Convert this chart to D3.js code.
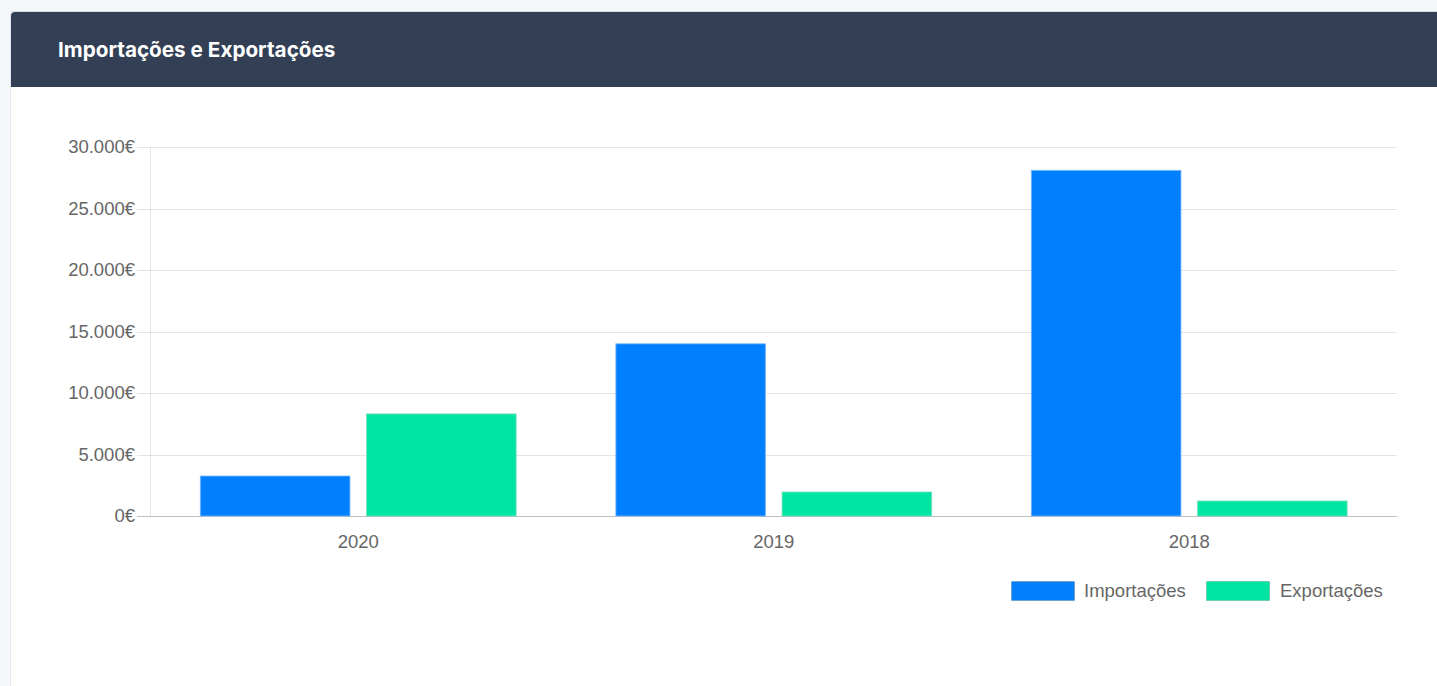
<!DOCTYPE html>
<html>
<head>
<meta charset="utf-8">
<script src="https://cdn.jsdelivr.net/npm/d3@7"></script>
<style>
  html, body { margin: 0; padding: 0; background: #f5f8fb; width: 1437px; height: 686px; overflow: hidden; }
  .card { position: absolute; left: 10px; top: 11px; width: 1460px; height: 700px; background: #fff;
          border-left: 1px solid #e3e7ec; border-top: 1px solid #d6d9dd; border-radius: 4px 0 0 0; }
  .card-header { height: 75px; background: #323f55; border-radius: 4px 0 0 0; position: relative; }
  .card-header h3 { margin: 0; position: absolute; left: 47px; top: 25px; color: #fff;
          font: 700 20.7px Inter, "Noto Sans", sans-serif; letter-spacing: 0px; }
  svg { position: absolute; left: 0; top: 0; }
</style>
</head>
<body>
<div class="card"><div class="card-header"><h3>Importações e Exportações</h3></div></div>
<svg id="chart" width="1437" height="686"></svg>
<script>
const categories = ["2020", "2019", "2018"];
const seriesNames = ["Importações", "Exportações"];
const importacoes = [3250, 14000, 28100];
const exportacoes = [8300, 1950, 1220];
const yTicks = [0, 5000, 10000, 15000, 20000, 25000, 30000];
const colors = ["#0080ff", "#00e5a3"];

const svg = d3.select("#chart");
const pLeft = 150.5, pRight = 1397, pTop = 147, pBottom = 516;
const FONT = "18.5px 'Liberation Sans', Arial, sans-serif";

const x = d3.scaleBand().domain(categories).range([pLeft, pRight]).paddingInner(0).paddingOuter(0);
const x1 = d3.scaleBand().domain(seriesNames).range([x.bandwidth() * 0.1, x.bandwidth() * 0.9]);
const y = d3.scaleLinear().domain([0, 30000]).range([pBottom, pTop]);

const fmt = v => d3.format(",")(v).replace(/,/g, ".") + "€";

// grid
const g = svg.append("g");
g.selectAll("line.grid").data(yTicks).join("line")
  .attr("x1", 137).attr("x2", pRight)
  .attr("y1", d => Math.round(y(d)) + 0.5).attr("y2", d => Math.round(y(d)) + 0.5)
  .attr("stroke", d => d === 0 ? "rgba(0,0,0,0.25)" : "rgba(0,0,0,0.1)").attr("stroke-width", 1);
g.append("line").attr("x1", 150.5).attr("x2", 150.5).attr("y1", pTop).attr("y2", pBottom)
  .attr("stroke", "rgba(0,0,0,0.1)");

const yAxis = d3.axisLeft(y).tickValues(yTicks).tickFormat(fmt).tickSize(0).tickPadding(15);
const ya = svg.append("g").attr("transform", `translate(150,0)`).call(yAxis);
ya.select(".domain").remove();
ya.selectAll("text").attr("fill", "#666").style("font", FONT);

const xAxis = d3.axisBottom(x).tickSize(0).tickPadding(19);
const xa = svg.append("g").attr("transform", `translate(0,${pBottom})`).call(xAxis);
xa.select(".domain").remove();
xa.selectAll("text").attr("fill", "#666").style("font", FONT);

// bars
const data = categories.map((c, i) => ({ cat: c, vals: [importacoes[i], exportacoes[i]] }));
const groups = svg.append("g").selectAll("g").data(data).join("g")
  .attr("transform", d => `translate(${x(d.cat)},0)`);
groups.selectAll("rect").data(d => d.vals.map((v, j) => ({ v, j })))
  .join("rect")
  .attr("x", d => x1(seriesNames[d.j]) + x1.bandwidth() * 0.05)
  .attr("width", x1.bandwidth() * 0.9)
  .attr("y", d => y(d.v))
  .attr("height", d => pBottom - y(d.v))
  .attr("fill", d => colors[d.j])
  .attr("stroke", d => d.j === 0 ? "rgba(120,180,255,0.8)" : "rgba(120,220,190,0.8)")
  .attr("stroke-width", 1);

// legend
const legendItems = [
  { name: seriesNames[0], color: colors[0], bx: 1011, tx: 1084 },
  { name: seriesNames[1], color: colors[1], bx: 1206, tx: 1280 }
];
const lg = svg.append("g");
legendItems.forEach(it => {
  lg.append("rect").attr("x", it.bx + 0.5).attr("y", 581.5).attr("width", 63).attr("height", 19)
    .attr("fill", it.color).attr("stroke", "rgba(0,0,0,0.15)");
  lg.append("text").attr("x", it.tx).attr("y", 597).attr("fill", "#666")
    .style("font", FONT).text(it.name);
});
</script>
</body>
</html>
